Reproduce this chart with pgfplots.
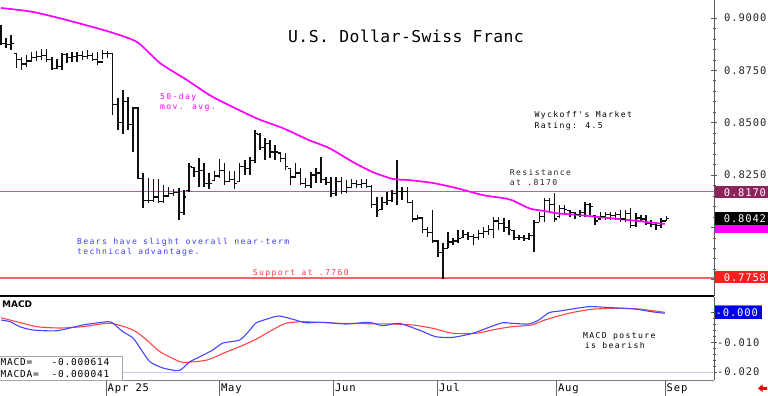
\documentclass[border=0pt]{standalone}
\usepackage{pgfplots}
\pgfplotsset{compat=1.18}
\usepackage{pgfplotstable}
\usepackage{fontspec}
\setmainfont{DejaVu Sans Mono}
\newfontfamily\tickf{DejaVu Sans Mono}[LetterSpace=8]
\newfontfamily\smallf{DejaVu Sans Mono}[LetterSpace=17]
\newfontfamily\titlef{DejaVu Sans Mono}[LetterSpace=2.6]
\newfontfamily\boldf{DejaVu Sans}

\definecolor{barblk}{RGB}{15,15,15}
\definecolor{mamag}{RGB}{255,0,255}
\definecolor{rescol}{RGB}{215,85,150}
\definecolor{supcol}{RGB}{245,100,100}
\definecolor{macdblue}{RGB}{70,70,255}
\definecolor{macdred}{RGB}{255,70,70}
\definecolor{resbox}{RGB}{140,35,90}
\definecolor{supbox}{RGB}{255,30,30}
\definecolor{bluetxt}{RGB}{60,60,255}
\definecolor{redtxt}{RGB}{255,60,60}
\definecolor{gridlav}{RGB}{200,200,250}
\definecolor{axgray}{RGB}{90,90,90}

\pgfdeclareplotmark{otick}{\pgfpathmoveto{\pgfqpoint{-\pgfplotmarksize}{0pt}}\pgfpathlineto{\pgfqpoint{0pt}{0pt}}\pgfusepathqstroke}
\pgfdeclareplotmark{ctick}{\pgfpathmoveto{\pgfqpoint{0pt}{0pt}}\pgfpathlineto{\pgfqpoint{\pgfplotmarksize}{0pt}}\pgfusepathqstroke}

\pgfplotstableread{
i o h l c
0 0.8950 0.8967 0.8870 0.8880
1 0.8880 0.8904 0.8857 0.8875
2 0.8875 0.8919 0.8847 0.8880
3 0.8830 0.8833 0.8761 0.8800
4 0.8800 0.8814 0.8752 0.8780
5 0.8780 0.8823 0.8766 0.8795
6 0.8795 0.8838 0.8790 0.8810
7 0.8810 0.8843 0.8795 0.8815
8 0.8815 0.8852 0.8800 0.8820
9 0.8820 0.8852 0.8790 0.8800
10 0.8800 0.8814 0.8752 0.8760
11 0.8760 0.8804 0.8757 0.8770
12 0.8770 0.8833 0.8752 0.8825
13 0.8825 0.8833 0.8785 0.8810
14 0.8810 0.8838 0.8790 0.8815
15 0.8815 0.8838 0.8790 0.8820
16 0.8820 0.8840 0.8800 0.8815
17 0.8815 0.8845 0.8805 0.8820
18 0.8820 0.8833 0.8795 0.8800
19 0.8800 0.8838 0.8775 0.8790
20 0.8790 0.8845 0.8805 0.8830
21 0.8830 0.8840 0.8810 0.8830
22 0.8830 0.8833 0.8536 0.8585
23 0.8585 0.8618 0.8465 0.8500
24 0.8500 0.8656 0.8445 0.8600
25 0.8600 0.8623 0.8465 0.8490
26 0.8490 0.8575 0.8360 0.8570
27 0.8570 0.8575 0.8230 0.8235
28 0.8235 0.8259 0.8092 0.8130
29 0.8130 0.8236 0.8116 0.8130
30 0.8130 0.8230 0.8120 0.8145
31 0.8145 0.8230 0.8116 0.8125
32 0.8125 0.8200 0.8116 0.8150
33 0.8150 0.8192 0.8145 0.8160
34 0.8160 0.8183 0.8150 0.8165
35 0.8165 0.8188 0.8035 0.8070
36 0.8070 0.8178 0.8059 0.8145
37 0.8175 0.8307 0.8169 0.8290
38 0.8285 0.8288 0.8240 0.8265
39 0.8265 0.8331 0.8193 0.8270
40 0.8270 0.8307 0.8193 0.8210
41 0.8210 0.8260 0.8185 0.8210
42 0.8225 0.8268 0.8220 0.8245
43 0.8245 0.8326 0.8236 0.8270
44 0.8270 0.8307 0.8200 0.8220
45 0.8220 0.8268 0.8220 0.8230
46 0.8230 0.8268 0.8185 0.8210
47 0.8220 0.8307 0.8216 0.8290
48 0.8290 0.8322 0.8250 0.8280
49 0.8280 0.8336 0.8250 0.8320
50 0.8320 0.8465 0.8307 0.8450
51 0.8445 0.8450 0.8370 0.8380
52 0.8380 0.8427 0.8322 0.8400
53 0.8400 0.8417 0.8331 0.8360
54 0.8360 0.8393 0.8322 0.8360
55 0.8355 0.8360 0.8312 0.8330
56 0.8330 0.8355 0.8274 0.8290
57 0.8280 0.8283 0.8202 0.8240
58 0.8240 0.8307 0.8236 0.8260
59 0.8260 0.8283 0.8202 0.8210
60 0.8210 0.8236 0.8188 0.8200
61 0.8200 0.8264 0.8188 0.8250
62 0.8250 0.8283 0.8212 0.8260
63 0.8260 0.8336 0.8212 0.8230
64 0.8230 0.8240 0.8202 0.8215
65 0.8215 0.8240 0.8145 0.8160
66 0.8160 0.8240 0.8150 0.8220
67 0.8220 0.8240 0.8160 0.8170
68 0.8170 0.8226 0.8164 0.8190
69 0.8190 0.8233 0.8190 0.8210
70 0.8210 0.8226 0.8190 0.8205
71 0.8205 0.8230 0.8190 0.8210
72 0.8210 0.8233 0.8190 0.8195
73 0.8195 0.8202 0.8092 0.8110
74 0.8110 0.8145 0.8049 0.8080
75 0.8085 0.8145 0.8082 0.8120
76 0.8120 0.8169 0.8106 0.8130
77 0.8130 0.8178 0.8120 0.8160
78 0.8160 0.8322 0.8106 0.8170
79 0.8170 0.8192 0.8130 0.8170
80 0.8170 0.8192 0.8116 0.8120
81 0.8120 0.8130 0.8025 0.8040
82 0.8040 0.8060 0.8035 0.8045
83 0.8045 0.8049 0.7973 0.7990
84 0.7990 0.8000 0.7954 0.7975
85 0.7975 0.8082 0.7925 0.7935
86 0.7935 0.7940 0.7858 0.7880
87 0.7880 0.7925 0.7753 0.7900
88 0.7900 0.7978 0.7901 0.7930
89 0.7930 0.7949 0.7915 0.7935
90 0.7935 0.7987 0.7925 0.7945
91 0.7950 0.7987 0.7949 0.7965
92 0.7965 0.7978 0.7940 0.7955
93 0.7955 0.7970 0.7915 0.7950
94 0.7950 0.7987 0.7940 0.7970
95 0.7970 0.8000 0.7949 0.7980
96 0.7980 0.8010 0.7963 0.7990
97 0.7990 0.8049 0.7949 0.8030
98 0.8030 0.8049 0.7987 0.8020
99 0.8020 0.8044 0.7978 0.8000
100 0.8000 0.8035 0.7963 0.7990
101 0.7985 0.7987 0.7940 0.7950
102 0.7950 0.7965 0.7940 0.7950
103 0.7950 0.7965 0.7935 0.7945
104 0.7945 0.7975 0.7940 0.7960
105 0.7960 0.8035 0.7882 0.8025
106 0.8025 0.8073 0.8025 0.8050
107 0.8050 0.8140 0.8025 0.8130
108 0.8130 0.8140 0.8073 0.8110
109 0.8110 0.8164 0.8025 0.8040
110 0.8050 0.8107 0.8044 0.8090
111 0.8090 0.8107 0.8059 0.8085
112 0.8080 0.8083 0.8049 0.8070
113 0.8070 0.8075 0.8040 0.8060
114 0.8060 0.8083 0.8049 0.8070
115 0.8070 0.8121 0.8049 0.8110
116 0.8110 0.8116 0.8059 0.8100
117 0.8055 0.8059 0.8011 0.8030
118 0.8040 0.8075 0.8035 0.8050
119 0.8050 0.8075 0.8035 0.8060
120 0.8060 0.8075 0.8035 0.8055
121 0.8055 0.8075 0.8035 0.8060
122 0.8060 0.8083 0.8025 0.8040
123 0.8040 0.8083 0.8025 0.8065
124 0.8065 0.8092 0.7997 0.8010
125 0.8010 0.8067 0.8001 0.8045
126 0.8045 0.8059 0.8030 0.8040
127 0.8040 0.8059 0.8011 0.8020
128 0.8020 0.8035 0.8001 0.8015
129 0.8015 0.8025 0.7987 0.8010
130 0.8010 0.8044 0.7997 0.8030
131 0.8030 0.8052 0.8030 0.8042
}\ohlc

\pgfplotstableread{
i v
0 0.9048
6.3 0.9029
13 0.8990
21.5 0.8933
26.8 0.8885
31.3 0.8785
36.6 0.8704
41.7 0.8623
50.2 0.8522
55.5 0.8474
60.6 0.8417
64.6 0.8379
69.3 0.8312
73.2 0.8264
77.2 0.8231
80.3 0.8226
85.0 0.8212
89.6 0.8188
94.9 0.8154
98.8 0.8140
100.6 0.8130
104.1 0.8090
107.0 0.8078
109.6 0.8067
113.8 0.8059
117.3 0.8050
123.6 0.8035
130.7 0.8016
}\mavg

\pgfplotstableread{
i v
0 -0.00246
1.8 -0.00304
3.7 -0.00472
6.3 -0.00583
11.0 -0.00607
16.1 -0.00415
20.9 -0.00304
22.0 -0.00347
24.0 -0.00641
26.0 -0.00853
27.4 -0.01191
29.3 -0.01653
31.9 -0.01865
34.6 -0.01956
35.6 -0.01899
37.2 -0.01653
39.2 -0.01484
41.7 -0.01258
43.7 -0.01022
47.0 -0.00921
49.0 -0.00583
50.2 -0.00347
52.2 -0.00223
54.7 -0.00111
57.5 -0.00223
60.0 -0.00337
63.4 -0.00324
67.9 -0.00381
72.4 -0.00324
75.2 -0.00438
78.3 -0.00357
82.3 -0.00583
85.6 -0.00809
89.0 -0.00830
92.9 -0.00695
96.1 -0.00492
98.8 -0.00337
100.6 -0.00357
103.9 -0.00381
105.9 -0.00246
107.9 0.00000
110.4 0.00067
115.7 0.00202
120.3 0.00169
124.8 0.00125
128.1 0.00034
130.7 -0.00020
}\macd

\pgfplotstableread{
i v
0 -0.00169
3.1 -0.00304
7.1 -0.00472
11.6 -0.00516
16.1 -0.00472
21.5 -0.00357
26.0 -0.00583
28.7 -0.00921
31.3 -0.01315
35.2 -0.01653
36.6 -0.01673
40.6 -0.01595
44.5 -0.01315
47.0 -0.01147
50.2 -0.00897
52.8 -0.00641
56.1 -0.00357
60.0 -0.00304
66.5 -0.00357
76.4 -0.00381
81.1 -0.00415
85.0 -0.00526
89.0 -0.00695
93.5 -0.00695
97.4 -0.00560
100.6 -0.00472
104.5 -0.00415
107.1 -0.00246
111.8 -0.00020
116.3 0.00115
120.9 0.00148
125.6 0.00125
130.7 0.00013
}\signal

\begin{document}
\begin{tikzpicture}[x=1pt,y=1pt]
\useasboundingbox (0,0) rectangle (768,396);
% ---------------- price panel ----------------
\begin{axis}[
  at={(0pt,396pt)}, anchor=north west, scale only axis,
  width=714pt, height=296pt,
  xmin=-0.2, xmax=140.4, ymin=0.7672, ymax=0.9086,
  axis x line*=bottom, axis y line*=right,
  axis line style={-},
  x axis line style={line width=1.6pt, black},
  y axis line style={line width=0.8pt, axgray},
  xtick=\empty,
  ytick={0.775,0.8,0.825,0.85,0.875,0.9},
  yticklabels={{},{},0.8250,0.8500,0.8750,0.9000},
  minor y tick num=4,
  scaled y ticks=false,
  tick align=center, major tick length=6pt, minor tick length=3pt,
  ytick style={axgray, line width=0.6pt},
  yticklabel style={font={\tickf\fontsize{10.5}{12}\selectfont}, text=black!85, anchor=west, inner sep=0pt, xshift=7pt},
  clip=false,
]
\addplot[draw=rescol, line width=1.1pt] coordinates {(-0.2,0.8170) (140.4,0.8170)};
\addplot[draw=supcol, line width=1.1pt] coordinates {(-0.2,0.7758) (140.4,0.7758)};
\addplot[barblk, line width=1.5pt, -, quiver={u=0, v=\thisrow{h}-\thisrow{l}}] table[x=i, y=l] {\ohlc};
\addplot[only marks, mark=otick, mark size=2.6pt, mark options={barblk, line width=1.2pt}] table[x=i, y=o] {\ohlc};
\addplot[only marks, mark=ctick, mark size=2.6pt, mark options={barblk, line width=1.2pt}] table[x=i, y=c] {\ohlc};
\addplot[mamag, line width=1.7pt, smooth, tension=0.4] table[x=i, y=v] {\mavg};
\end{axis}
% ---------------- MACD panel ----------------
\begin{axis}[
  at={(0pt,99pt)}, anchor=north west, scale only axis,
  width=714pt, height=83pt,
  xmin=-0.2, xmax=140.4, ymin=-0.0227, ymax=0.0053,
  axis x line*=bottom, axis y line*=right,
  axis line style={-},
  x axis line style={line width=0.9pt, black!50},
  y axis line style={line width=0.8pt, axgray},
  xtick=\empty,
  ytick={-0.02,-0.01,0},
  yticklabels={-0.020,-0.010,{}},
  minor y tick num=4,
  scaled y ticks=false,
  tick align=center, major tick length=6pt, minor tick length=3pt,
  ytick style={axgray, line width=0.6pt},
  yticklabel style={font={\tickf\fontsize{10.5}{12}\selectfont}, text=black!85, anchor=west, inner sep=0pt, xshift=0pt},
  clip=false,
]
\addplot[draw=gridlav, line width=0.9pt] coordinates {(-0.2,-0.02) (140.4,-0.02)};
\addplot[macdred, line width=1.1pt, smooth, tension=0.4] table[x=i, y=v] {\signal};
\addplot[macdblue, line width=1.1pt, smooth, tension=0.4] table[x=i, y=v] {\macd};
\end{axis}

% ---------------- annotations ----------------
\node[anchor=base west, inner sep=0pt, font={\titlef\fontsize{16.4}{18}\selectfont}] at (288,353.3) {U.S. Dollar-Swiss Franc};
\begin{scope}[every node/.style={anchor=base west, inner sep=0pt, font={\smallf\fontsize{8.1}{10}\selectfont}}]
\node at (534.5,278.7) {Wyckoff's Market};
\node at (534.5,267.7) {Rating: 4.5};
\node[text=mamag] at (160,296) {50-day};
\node[text=mamag] at (160,286) {mov. avg.};
\node[text=black!85] at (509.7,220) {Resistance};
\node[text=black!85] at (509.7,210) {at .8170};
\node[text=bluetxt] at (77,151.7) {Bears have slight overall near-term};
\node[text=bluetxt] at (77,141.5) {technical advantage.};
\node[text=redtxt] at (252.7,120) {Support at .7760};
\node at (583,57.7) {MACD posture};
\node at (584.7,47.7) {is bearish};
\end{scope}
\node[anchor=base west, inner sep=0pt, font={\boldf\bfseries\fontsize{9}{10}\selectfont}] at (2,88.7) {MACD};

% MACD value box
\filldraw[fill=white, draw=black!35, line width=0.8pt] (-1,15.5) rectangle (122.5,40);
\begin{scope}[every node/.style={anchor=base west, inner sep=0pt, font={\tickf\fontsize{9.5}{11}\selectfont}}]
\node at (0.5,30) {MACD=};
\node at (51.5,30) {-0.000614};
\node at (0.5,18.7) {MACDA=};
\node at (51.5,18.7) {-0.000041};
\end{scope}

% month ticks and labels
\begin{scope}[every node/.style={anchor=base west, inner sep=0pt, font={\tickf\fontsize{10.5}{12}\selectfont}}]
\foreach \xx/\lab in {106/Apr 25, 219.3/May, 333.3/Jun, 437.3/Jul, 556.3/Aug, 665/Sep}{
  \draw[black!60, line width=0.8pt] (\xx,16) -- (\xx,0);
  \node at (\xx+1.5,4.3) {\lab};
}
\end{scope}

% right-hand value boxes
\begin{scope}[every node/.style={anchor=base west, inner sep=0pt, text=white, font={\tickf\fontsize{10.5}{12}\selectfont}}]
\fill[resbox] (715,197.5) rectangle (768,210);
\node at (723.7,199.8) {0.8170};
\fill[mamag] (715,163) rectangle (768,176);
\fill[black] (715,171) rectangle (768,184);
\node at (723.7,173.6) {0.8042};
\fill[supbox] (715,112.5) rectangle (768,124.5);
\node at (723.7,114.6) {0.7758};
\fill[macdred] (715,77.5) rectangle (762,90.5);
\fill[blue!90!black] (715,77) rectangle (762,89.5);
\node at (715.5,79.4) {-0.000};
\end{scope}
% small red arrow
\fill[red] (758,7.7) -- (762.5,11.5) -- (762.5,9.2) -- (767,9.2) -- (767,6.2) -- (762.5,6.2) -- (762.5,3.9) -- cycle;
\end{tikzpicture}
\end{document}
